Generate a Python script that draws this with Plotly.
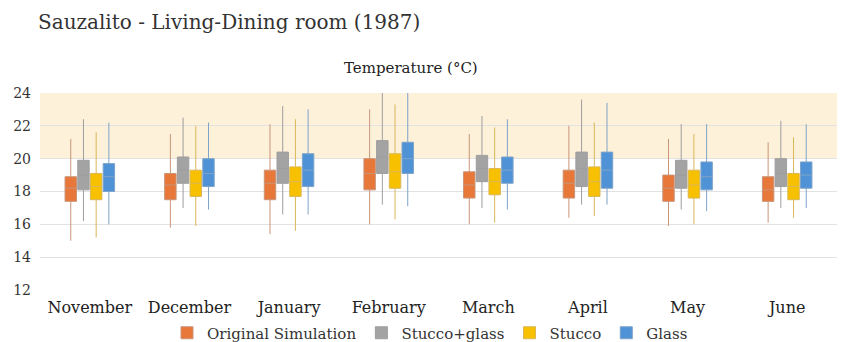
import plotly.graph_objects as go

months = ["November", "December", "January", "February", "March", "April", "May", "June"]
series = ["Original Simulation", "Stucco+glass", "Stucco", "Glass"]
colors = ["#E8773A", "#A3A3A3", "#F7C000", "#4F93D6"]
whisker_colors = ["#C99478", "#9E9E9E", "#D9B758", "#7FA3C8"]

# Box statistics per series, one value per month (°C)
q1 = {
    "Original Simulation": [17.4, 17.5, 17.5, 18.1, 17.6, 17.6, 17.4, 17.4],
    "Stucco+glass":        [18.1, 18.5, 18.5, 19.1, 18.6, 18.3, 18.2, 18.3],
    "Stucco":              [17.5, 17.7, 17.7, 18.2, 17.8, 17.7, 17.6, 17.5],
    "Glass":               [18.0, 18.3, 18.3, 19.1, 18.5, 18.2, 18.1, 18.2],
}
median = {
    "Original Simulation": [18.2, 18.4, 18.5, 19.1, 18.4, 18.5, 18.2, 18.1],
    "Stucco+glass":        [19.0, 19.3, 19.4, 20.1, 19.4, 19.4, 19.0, 19.1],
    "Stucco":              [18.3, 18.5, 18.6, 19.2, 18.6, 18.6, 18.4, 18.3],
    "Glass":               [18.9, 19.1, 19.3, 20.0, 19.3, 19.3, 18.9, 19.0],
}
q3 = {
    "Original Simulation": [18.9, 19.1, 19.3, 20.0, 19.2, 19.3, 19.0, 18.9],
    "Stucco+glass":        [19.9, 20.1, 20.4, 21.1, 20.2, 20.4, 19.9, 20.0],
    "Stucco":              [19.1, 19.3, 19.5, 20.3, 19.4, 19.5, 19.3, 19.1],
    "Glass":               [19.7, 20.0, 20.3, 21.0, 20.1, 20.4, 19.8, 19.8],
}
low = {
    "Original Simulation": [15.0, 15.8, 15.4, 16.0, 16.0, 16.4, 15.9, 16.1],
    "Stucco+glass":        [16.2, 17.0, 16.6, 17.2, 17.0, 17.2, 16.9, 17.0],
    "Stucco":              [15.2, 15.9, 15.6, 16.3, 16.1, 16.5, 16.0, 16.4],
    "Glass":               [16.0, 16.9, 16.6, 17.1, 16.9, 17.2, 16.8, 17.0],
}
high = {
    "Original Simulation": [21.2, 21.5, 22.1, 23.0, 21.5, 22.0, 21.2, 21.0],
    "Stucco+glass":        [22.4, 22.5, 23.2, 24.0, 22.6, 23.6, 22.1, 22.3],
    "Stucco":              [21.6, 22.0, 22.4, 23.3, 21.9, 22.2, 21.5, 21.3],
    "Glass":               [22.2, 22.2, 23.0, 24.0, 22.4, 23.4, 22.1, 22.1],
}

comfort_low, comfort_high = 20, 24
y_ticks = [12, 14, 16, 18, 20, 22, 24]

serif = "DejaVu Serif, serif"

fig = go.Figure()
for name, col, wcol in zip(series, colors, whisker_colors):
    fig.add_trace(go.Box(
        name=name,
        x=months,
        q1=q1[name], median=median[name], q3=q3[name],
        lowerfence=low[name], upperfence=high[name],
        fillcolor=col,
        line=dict(color=wcol, width=1),
        whiskerwidth=0,
        boxpoints=False,
        offsetgroup=name,
    ))

# comfort band
fig.add_shape(type="rect", xref="paper", yref="y", x0=0, x1=1,
              y0=comfort_low, y1=comfort_high,
              fillcolor="#FDF1DA", line_width=0, layer="below")

fig.update_layout(
    width=846, height=342,
    margin=dict(l=40, r=9, t=93, b=52),
    paper_bgcolor="white", plot_bgcolor="white",
    boxmode="group", boxgap=0.49, boxgroupgap=0.1,
    font=dict(family=serif, color="#333333"),
    title=dict(text="Sauzalito - Living-Dining room (1987)",
               x=38 / 846, xanchor="left", y=1 - 22 / 342, yanchor="middle",
               font=dict(family=serif, size=20, color="#333333")),
    annotations=[dict(text="Temperature (°C)", xref="paper", yref="paper",
                      x=(411 - 40) / 797, y=1 + (93 - 68) / 197,
                      xanchor="center", yanchor="middle", showarrow=False,
                      font=dict(family=serif, size=15, color="#222222"))],
    legend=dict(orientation="h", x=430 / 846, xanchor="center",
                xref="container", yref="container",
                y=(342 - 333) / 342, yanchor="middle",
                bgcolor="rgba(0,0,0,0)",
                font=dict(family=serif, size=15, color="#333333"),
                itemwidth=30, tracegroupgap=0),
    showlegend=True,
)
fig.update_xaxes(showgrid=False, showline=False, ticks="", ticklabelstandoff=6,
                 automargin=False,
                 tickfont=dict(family=serif, size=16, color="#222222"))
fig.update_yaxes(range=[12, 24], tickvals=y_ticks, showgrid=True,
                 gridcolor="#E2E2E2", gridwidth=1, zeroline=False,
                 showline=False, ticks="", ticklabelstandoff=8,
                 automargin=False,
                 tickfont=dict(family=serif, size=14, color="#333333"))

fig.write_html("out.html")
